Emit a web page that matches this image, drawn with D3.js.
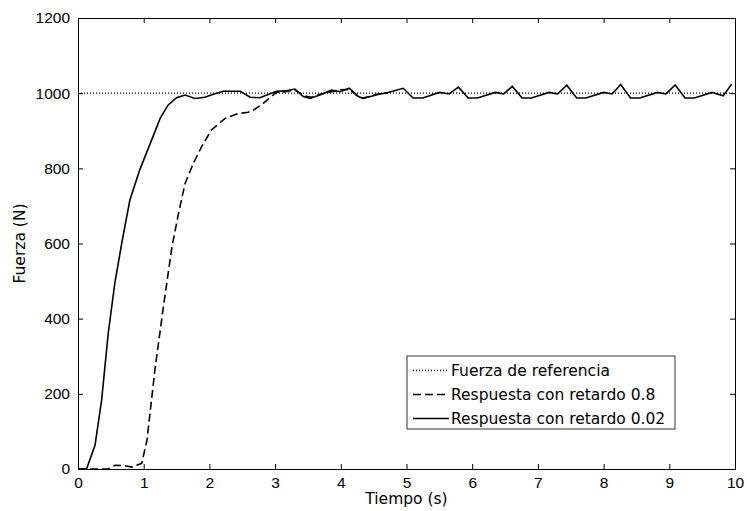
<!DOCTYPE html>
<html lang="es">
<head>
<meta charset="UTF-8">
<title>Fuerza vs Tiempo</title>
<script src="https://d3js.org/d3.v7.min.js"></script>
<style>
    body { margin: 0; background: #fff; }
    svg { font-family: "DejaVu Sans", sans-serif; }
    .tick text { font-size: 15.5px; fill: #000; }
    .lbl { font-size: 15.5px; fill: #000; }
</style>
</head>
<body>
<svg id="chart"></svg>
<script>
// Data
const xTicks = [0, 1, 2, 3, 4, 5, 6, 7, 8, 9, 10];
const yTicks = [0, 200, 400, 600, 800, 1000, 1200];
const legendLabels = ["Fuerza de referencia", "Respuesta con retardo 0.8", "Respuesta con retardo 0.02"];

const refTime = [0, 10];
const refForce = [1000, 1000];

// retardo 0.8 (dashed)
const slowTime  = [0, 0.46, 0.56, 0.7, 0.82, 0.97, 1.05, 1.17, 1.3, 1.43, 1.53, 1.63, 1.755, 1.88, 2.03, 2.24, 2.44, 2.59, 2.67, 2.8, 2.92, 3.02, 3.15, 3.3, 3.45, 3.55, 3.7, 3.86, 3.99, 4.13, 4.27, 4.34, 4.55, 4.72];
const slowForce = [0, 0, 10, 9, 5, 15, 77, 263, 432, 591, 680, 760, 813, 857, 902, 933, 946, 949, 955, 970, 988, 1002, 1004, 1008, 993, 989, 998, 1004, 1009, 1010, 990, 987, 997, 1001];

// retardo 0.02 (solid)
const fastTime  = [0, 0.13, 0.26, 0.36, 0.46, 0.56, 0.665, 0.79, 0.94, 1.12, 1.25, 1.37, 1.5, 1.63, 1.78, 1.93, 2.06, 2.21, 2.47, 2.62, 2.77, 3.02, 3.15, 3.3, 3.43, 3.53, 3.68, 3.86, 3.99, 4.13, 4.27, 4.34, 4.55, 4.72,
                   4.95, 5.1, 5.25, 5.5, 5.65, 5.79, 5.94, 6.08, 6.35, 6.48, 6.61, 6.76, 6.9, 7.17, 7.3, 7.44, 7.59, 7.73, 8.0, 8.13, 8.26, 8.41, 8.55, 8.82, 8.95, 9.09, 9.24, 9.38, 9.65, 9.82, 9.95];
const fastForce = [0, 0, 64, 184, 361, 494, 600, 716, 796, 875, 933, 968, 988, 995, 986, 989, 997, 1005, 1005, 989, 988, 1005, 1006, 1011, 991, 986, 995, 1008, 1004, 1013, 991, 986, 996, 1002,
                   1013, 987, 987, 1002, 998, 1016, 987, 987, 1002, 998, 1018, 987, 987, 1002, 998, 1021, 987, 987, 1002, 998, 1023, 987, 987, 1002, 998, 1022, 987, 987, 1002, 993, 1024];

const W = 747, H = 511;
const margin = { top: 18, right: 12, bottom: 42, left: 78 };
const width = W - margin.left - margin.right;
const height = H - margin.top - margin.bottom;

const svg = d3.select("#chart").attr("width", W).attr("height", H);
const g = svg.append("g").attr("transform", `translate(${margin.left},${margin.top})`);

const x = d3.scaleLinear().domain([0, 10]).range([0, width]);
const y = d3.scaleLinear().domain([0, 1200]).range([height, 0]);

// axes (MATLAB style box, inward ticks)
const axB = g.append("g").attr("transform", `translate(0,${height})`)
    .call(d3.axisBottom(x).tickValues(xTicks).tickSize(-5).tickPadding(8).tickFormat(d3.format("d")));
const axT = g.append("g")
    .call(d3.axisTop(x).tickValues(xTicks).tickSize(-5).tickFormat(""));
const axL = g.append("g")
    .call(d3.axisLeft(y).tickValues(yTicks).tickSize(-5).tickPadding(8).tickFormat(d3.format("d")));
const axR = g.append("g").attr("transform", `translate(${width},0)`)
    .call(d3.axisRight(y).tickValues(yTicks).tickSize(-5).tickFormat(""));
[axB, axT, axL, axR].forEach(a => {
    a.select(".domain").attr("stroke", "#000").attr("stroke-width", 1);
    a.selectAll(".tick line").attr("stroke", "#000");
});

// axis labels
svg.append("text").attr("class", "lbl")
    .attr("x", margin.left + width / 2).attr("y", 504)
    .attr("text-anchor", "middle").text("Tiempo (s)");
svg.append("text").attr("class", "lbl")
    .attr("transform", `translate(25,${margin.top + height / 2}) rotate(-90)`)
    .attr("text-anchor", "middle").text("Fuerza (N)");

const line = d3.line().x(d => x(d[0])).y(d => y(d[1]));
const zip = (a, b) => a.map((v, i) => [v, b[i]]);

const series = [
    { t: refTime, f: refForce, dash: "1,2", w: 1.3 },
    { t: slowTime, f: slowForce, dash: "8,4", w: 1.6 },
    { t: fastTime, f: fastForce, dash: null, w: 1.6 }
];

series.forEach(s => {
    g.append("path")
        .datum(zip(s.t, s.f))
        .attr("fill", "none")
        .attr("stroke", "#000")
        .attr("stroke-width", s.w)
        .attr("stroke-dasharray", s.dash)
        .attr("d", line);
});

// legend
const lg = svg.append("g").attr("transform", "translate(407,356)");
lg.append("rect").attr("width", 268).attr("height", 73)
    .attr("fill", "#fff").attr("stroke", "#000").attr("stroke-width", 0.8);
legendLabels.forEach((lab, i) => {
    const yy = 14.5 + i * 24;
    lg.append("line").attr("x1", 6).attr("x2", 42).attr("y1", yy).attr("y2", yy)
        .attr("stroke", "#000").attr("stroke-width", series[i].w)
        .attr("stroke-dasharray", series[i].dash);
    lg.append("text").attr("class", "lbl").attr("x", 44).attr("y", yy + 5.5).text(lab);
});
</script>
</body>
</html>
